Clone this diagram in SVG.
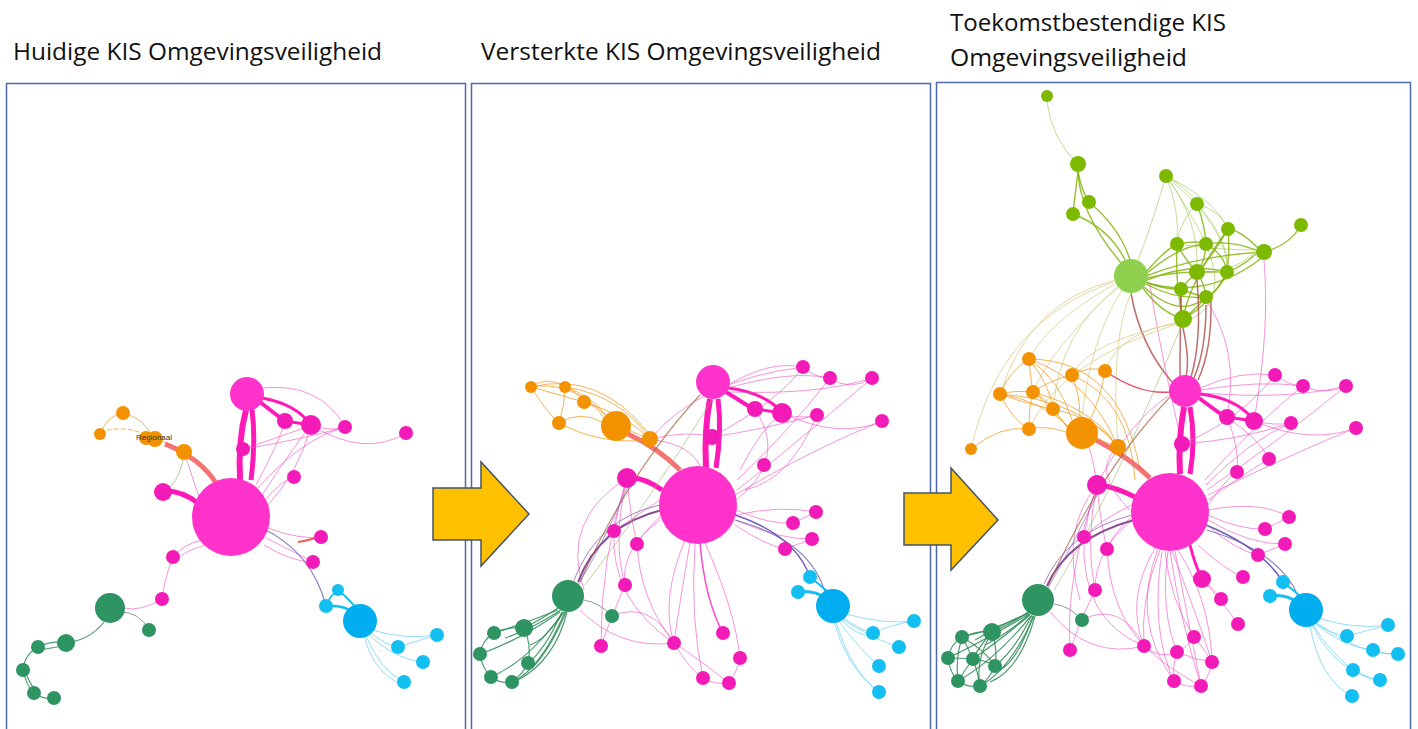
<svg xmlns="http://www.w3.org/2000/svg" width="1418" height="729" viewBox="0 0 1418 729">
<style>
.t{font-family:"Open Sans","Liberation Sans",sans-serif;font-size:23px;fill:#111}
.panel{fill:#fff;stroke:#4F69A8;stroke-width:1.5}
.arrow{fill:#FFC000;stroke:#44546A;stroke-width:1.5}
path{fill:none}
.ep{stroke:#F04CC0;stroke-width:1;opacity:.6}
.ept{stroke:#FF1AB8}
.eo{stroke:#F09A20;stroke-width:1;opacity:.75}
.er{stroke:#F25A5A}
.eb{stroke:#4CC6F2;stroke-width:1;opacity:.6}
.epu{stroke:#6F5FB5}
.edg{stroke:#2E8B57;stroke-width:1.2;opacity:.85}
.eg{stroke:#7DB200;stroke-width:1.4;opacity:.8}
.egl{stroke:#A9CF6A;stroke-width:1;opacity:.7}
.ey{stroke:#D9CF8C;stroke-width:1;opacity:.8}
.ebr{stroke:#B04848;stroke-width:1.5;opacity:.8}
.hub{fill:#FF33CC}
.pk{fill:#F21BB8}
.or{fill:#F39200}
.dg{fill:#2E9462}
.bl{fill:#12BFF0}
.bb{fill:#00ADEF}
.gr{fill:#7DB900}
.lg{fill:#8FD14F}
.lbl{font-family:"Liberation Sans",sans-serif;font-size:8px;fill:#333}
</style>

<g id="titles">
<text class="t" x="13" y="60" textLength="369" lengthAdjust="spacingAndGlyphs">Huidige KIS Omgevingsveiligheid</text>
<text class="t" x="481" y="60" textLength="400" lengthAdjust="spacingAndGlyphs">Versterkte KIS Omgevingsveiligheid</text>
<text class="t" x="950" y="31" textLength="276" lengthAdjust="spacingAndGlyphs">Toekomstbestendige KIS</text>
<text class="t" x="950" y="66" textLength="237" lengthAdjust="spacingAndGlyphs">Omgevingsveiligheid</text>
</g>

<g id="panels">
<rect class="panel" x="6.5" y="83.5" width="459" height="660"/>
<rect class="panel" x="471.5" y="83.5" width="459" height="660"/>
<rect class="panel" x="936.5" y="82.5" width="474" height="660"/>
</g>

<g id="connectors">
<!-- ===== Panel 1 ===== -->
<path class="ept" stroke-width="6" d="M240 480 Q238 440 246 410"/>
<path class="ept" stroke-width="5" d="M251 480 Q256 440 252 410"/>
<path class="ept" stroke-width="5" d="M198 503 Q182 491 166 491"/>
<path class="ept" stroke-width="4" d="M260 402 Q275 414 285 421"/>
<path class="ept" stroke-width="3" d="M262 398 Q296 404 311 425"/>
<path class="ept" stroke-width="3" d="M285 421 L311 425"/>
<path class="ep" d="M262 388 Q320 382 345 427"/>
<path class="ep" d="M311 425 Q365 458 406 433"/>
<path class="ep" d="M258 488 Q300 440 345 427"/>
<path class="ep" d="M262 495 Q290 452 311 425"/>
<path class="ep" d="M256 485 Q280 440 285 421"/>
<path class="ep" d="M265 500 Q282 480 294 477"/>
<path class="ep" d="M243 449 Q300 440 345 427"/>
<path class="ep" d="M243 449 Q300 430 311 425"/>
<path class="ep" d="M268 505 Q300 470 311 425"/>
<path class="ep" d="M311 425 Q330 432 345 427"/>
<path class="ep" d="M268 528 Q300 540 321 537"/>
<path class="er" stroke-width="2" d="M298 542 Q310 540 318 537"/>
<path class="ep" d="M264 545 Q292 562 313 562"/>
<path class="ep" d="M266 538 Q300 555 313 562"/>
<path class="ep" stroke-width="1.5" d="M202 540 Q182 545 173 557"/>
<path class="ep" d="M206 545 Q186 550 176 560"/>
<path class="ep" stroke-width="1.5" d="M173 557 Q164 580 162 599"/>
<path class="ep" d="M162 599 Q140 612 124 608"/>
<path stroke="#8A9AA8" stroke-width="1" d="M120 612 Q140 612 149 630"/>
<path class="edg" stroke-width="2" d="M104 622 Q90 640 66 643"/>
<path class="edg" d="M66 643 Q52 640 38 647"/>
<path class="edg" d="M64 646 Q50 648 40 650"/>
<path class="edg" d="M38 647 Q24 655 23 670"/>
<path class="edg" d="M23 670 Q26 685 34 693"/>
<path class="edg" d="M25 672 Q32 688 38 693"/>
<path class="edg" d="M34 693 Q44 700 54 698"/>
<path class="eo" stroke-width="1.5" d="M100 434 Q108 415 123 413"/>
<path class="eo" stroke-width="1.5" d="M123 413 Q145 418 153 439"/>
<path class="eo" stroke-width="1.5" stroke-dasharray="5 2" d="M100 432 Q128 424 150 437"/>
<path class="eo" stroke-width="3" d="M153 439 Q170 442 184 452"/>
<path class="er" stroke-width="5" opacity=".85" d="M165 444 Q200 458 216 483"/>
<path stroke="#B9C8A0" stroke-width="1" d="M184 452 Q182 475 170 487"/>
<path class="ep" d="M184 452 Q190 470 200 500"/>
<path class="epu" stroke-width="1.2" opacity=".8" d="M262 528 Q312 552 326 606"/>
<path stroke="#12BFF0" stroke-width="3" d="M326 606 Q345 605 352 612"/>
<path stroke="#12BFF0" stroke-width="2" d="M338 590 Q350 600 356 608"/>
<path stroke="#12BFF0" stroke-width="1.5" d="M326 606 Q330 595 338 590"/>
<path class="eb" d="M370 632 Q385 645 398 647"/>
<path class="eb" d="M368 634 Q395 660 423 662"/>
<path class="eb" d="M372 630 Q405 640 437 635"/>
<path class="eb" d="M366 636 Q380 670 404 682"/>
<path class="eb" d="M364 636 Q375 675 402 684"/>
<path class="eb" d="M398 647 Q420 640 437 635"/>

<!-- ===== Panel 2 ===== -->
<path class="ept" stroke-width="6" d="M706 468 Q704 430 710 399"/>
<path class="ept" stroke-width="5" d="M716 468 Q722 430 718 399"/>
<path class="ept" stroke-width="5" d="M662 490 Q645 478 632 478"/>
<path class="ept" stroke-width="4" d="M726 392 Q742 402 753 409"/>
<path class="ept" stroke-width="3" d="M728 388 Q762 392 780 410"/>
<path class="ept" stroke-width="3" d="M755 409 L782 413"/>
<path class="er" stroke-width="5" opacity=".85" d="M628 434 Q658 448 680 470"/>
<path class="eo" stroke-width="3" d="M628 430 L645 437"/>
<path class="eo" d="M531 387 Q570 380 605 415"/>
<path class="eo" d="M565 387 Q590 395 606 415"/>
<path class="eo" stroke-width="1.5" d="M584 402 Q596 405 604 418"/>
<path class="eo" stroke-width="1.5" d="M559 423 Q580 410 602 422"/>
<path class="eo" d="M531 387 Q548 375 565 387"/>
<path class="eo" d="M531 387 Q560 395 584 402"/>
<path class="eo" d="M565 387 Q575 390 584 402"/>
<path class="eo" d="M531 387 Q545 410 559 423"/>
<path class="eo" d="M565 387 Q565 405 559 423"/>
<path class="eo" opacity=".45" d="M531 387 Q600 370 650 435"/>
<path class="eo" opacity=".5" d="M565 387 Q620 395 650 439"/>
<path class="eo" opacity=".5" d="M584 402 Q625 415 648 437"/>
<path class="eo" opacity=".4" d="M559 423 Q600 445 648 440"/>
<path class="ep" d="M728 385 Q770 360 803 367"/>
<path class="ep" d="M728 388 Q790 370 830 378"/>
<path class="ep" d="M730 392 Q820 395 872 378"/>
<path class="ep" d="M782 413 Q800 420 817 415"/>
<path class="ep" d="M782 413 Q840 440 882 421"/>
<path class="ep" d="M737 480 Q790 430 830 378"/>
<path class="ep" d="M737 490 Q800 440 872 378"/>
<path class="ep" d="M735 495 Q810 450 882 421"/>
<path class="ep" d="M736 500 Q760 480 764 465"/>
<path class="ep" d="M712 437 Q760 430 817 415"/>
<path class="ep" d="M712 437 Q780 400 803 367"/>
<path class="ep" d="M740 470 Q760 430 782 413"/>
<path class="ep" d="M745 490 Q790 480 817 415"/>
<path class="ep" d="M755 409 Q775 440 764 465"/>
<path class="ep" d="M803 367 Q815 378 830 378"/>
<path class="ep" d="M830 378 Q850 392 872 378"/>
<path class="ep" d="M650 439 Q700 380 803 367"/>
<path class="ep" d="M650 439 Q690 430 712 437"/>
<path class="ep" stroke-width="1.5" d="M655 440 Q690 445 700 466"/>
<path class="ep" d="M736 510 Q770 525 793 523"/>
<path class="ep" d="M736 515 Q780 505 816 512"/>
<path class="ep" d="M736 520 Q780 540 812 539"/>
<path class="ep" d="M735 525 Q765 545 785 549"/>
<path class="ep" stroke-width="1.5" d="M793 523 L816 512"/>
<path class="ep" stroke-width="1.5" d="M785 549 L812 539"/>
<path class="epu" stroke-width="1.5" d="M735 515 Q795 535 810 577"/>
<path class="epu" stroke-width="1.2" opacity=".8" d="M735 520 Q810 540 825 592"/>
<path stroke="#12BFF0" stroke-width="3" d="M798 592 Q815 590 825 598"/>
<path stroke="#12BFF0" stroke-width="2" d="M810 577 Q820 585 828 592"/>
<path class="eb" d="M842 617 Q860 630 873 633"/>
<path class="eb" d="M840 619 Q855 635 871 636"/>
<path class="eb" d="M840 618 Q875 640 899 647"/>
<path class="eb" d="M842 613 Q885 625 914 621"/>
<path class="eb" d="M838 620 Q860 650 879 666"/>
<path class="eb" d="M836 621 Q850 670 879 692"/>
<path class="eb" d="M834 621 Q845 665 876 690"/>
<path class="eb" d="M873 633 Q890 625 914 621"/>
<path class="ep" d="M690 543 Q680 600 674 643"/>
<path class="ept" stroke-width="1.5" opacity=".8" d="M700 543 Q705 600 723 633"/>
<path class="ep" d="M695 543 Q690 620 703 678"/>
<path class="ep" d="M705 543 Q735 610 740 658"/>
<path class="ep" d="M685 540 Q660 600 674 643"/>
<path class="ep" d="M674 643 Q690 670 703 678"/>
<path class="ep" stroke-width="1.5" d="M703 678 Q715 685 729 683"/>
<path class="ep" stroke-width="1.5" d="M729 683 Q738 670 740 658"/>
<path class="ep" d="M674 643 Q700 660 729 683"/>
<path class="ep" d="M627 478 Q618 505 614 531"/>
<path class="ep" d="M627 478 Q630 515 637 544"/>
<path class="ep" d="M627 478 Q600 560 601 646"/>
<path class="ep" d="M627 478 Q612 540 625 585"/>
<path class="ep" d="M660 500 Q630 520 614 531"/>
<path class="ep" d="M662 515 Q645 530 637 544"/>
<path class="ep" stroke-width="1.3" d="M625 585 Q610 620 601 646"/>
<path class="ep" d="M614 531 Q610 600 674 643"/>
<path class="ep" d="M660 520 Q620 550 625 585"/>
<path class="ep" d="M637 544 Q640 600 674 643"/>
<path class="ep" d="M627 478 Q560 520 584 590"/>
<path class="ep" d="M612 616 Q650 600 674 643"/>
<path class="ep" d="M580 610 Q620 650 674 643"/>
<path stroke="#8B4B9B" stroke-width="2" d="M662 510 Q600 525 578 582"/>
<path stroke="#8B4B9B" stroke-width="1" opacity=".7" d="M660 505 Q598 518 574 580"/>
<path stroke="#A8603A" stroke-width="1.2" opacity=".7" d="M700 395 Q630 470 580 582"/>
<path stroke="#9DB36A" stroke-width="1" opacity=".6" d="M712 400 Q650 500 585 585"/>
<path class="epu" stroke-width="1" opacity=".6" d="M627 488 Q600 550 578 585"/>
<path stroke="#8A9AA8" stroke-width="1" d="M584 600 Q600 603 612 616"/>
<path class="edg" stroke-width="2" d="M558 608 Q540 620 524 628"/>
<path class="edg" d="M558 610 Q520 625 494 633"/>
<path class="edg" d="M560 612 Q520 640 480 654"/>
<path class="edg" d="M562 612 Q545 650 528 663"/>
<path class="edg" d="M563 612 Q530 660 491 677"/>
<path class="edg" d="M565 612 Q540 670 512 682"/>
<path class="edg" d="M564 612 Q545 640 530 645"/>
<path class="edg" d="M566 612 Q550 650 532 668"/>
<path class="edg" d="M561 610 Q530 630 505 638"/>
<path class="edg" d="M567 612 Q555 660 518 680"/>
<path class="edg" d="M494 633 Q510 626 524 628"/>
<path class="edg" d="M480 654 Q482 640 494 633"/>
<path class="edg" d="M480 654 Q482 668 491 677"/>
<path class="edg" d="M491 677 Q500 684 512 682"/>
<path class="edg" d="M512 682 Q522 675 528 663"/>
<path class="edg" d="M524 628 Q532 645 528 663"/>

<!-- ===== Panel 3 ===== -->
<path class="egl" d="M1047 102 Q1052 140 1078 164"/>
<path class="eg" d="M1078 172 Q1075 195 1073 214"/>
<path class="eg" d="M1078 172 Q1082 192 1089 202"/>
<path class="eg" d="M1073 214 Q1110 228 1126 262"/>
<path class="eg" d="M1089 202 Q1120 228 1130 260"/>
<path class="eg" d="M1078 172 Q1080 215 1122 264"/>
<path class="egl" d="M1166 176 Q1150 230 1138 260"/>
<path class="egl" d="M1166 176 Q1190 190 1197 204"/>
<path class="egl" d="M1166 176 Q1190 210 1206 244"/>
<path class="egl" d="M1166 176 Q1180 210 1177 244"/>
<path class="egl" d="M1166 176 Q1200 220 1197 272"/>
<path class="egl" d="M1166 176 Q1215 200 1228 229"/>
<path class="egl" d="M1166 176 Q1230 230 1227 272"/>
<path class="egl" d="M1197 204 Q1180 220 1177 244"/>
<path class="eg" d="M1197 204 Q1205 225 1206 244"/>
<path class="egl" d="M1197 204 Q1220 210 1228 229"/>
<path class="egl" d="M1197 204 Q1230 240 1227 272"/>
<path class="eg" d="M1146 272 Q1165 250 1177 244"/>
<path class="eg" d="M1146 274 Q1180 245 1206 244"/>
<path class="eg" stroke-width="2" d="M1147 278 Q1175 272 1197 272"/>
<path class="eg" d="M1147 280 Q1190 262 1227 272"/>
<path class="eg" d="M1146 282 Q1165 290 1181 289"/>
<path class="eg" stroke-width="2" d="M1146 284 Q1175 300 1206 297"/>
<path class="eg" stroke-width="2" d="M1143 288 Q1160 312 1183 319"/>
<path class="eg" d="M1146 276 Q1200 255 1264 252"/>
<path class="eg" d="M1147 283 Q1210 300 1264 256"/>
<path class="eg" d="M1144 287 Q1180 320 1206 297"/>
<path class="eg" d="M1264 252 Q1290 245 1301 225"/>
<path class="eg" d="M1256 250 Q1230 240 1206 244"/>
<path class="eg" d="M1256 254 Q1240 268 1227 272"/>
<path class="eg" d="M1258 248 Q1240 230 1228 229"/>
<path class="egl" d="M1256 250 Q1220 250 1177 244"/>
<path class="egl" d="M1256 252 Q1230 275 1197 272"/>
<path class="eg" d="M1177 244 Q1200 240 1206 244"/>
<path class="eg" d="M1177 244 Q1185 260 1197 272"/>
<path class="eg" d="M1206 244 Q1205 262 1197 272"/>
<path class="eg" d="M1206 244 Q1225 255 1227 272"/>
<path class="eg" d="M1228 229 Q1230 250 1227 272"/>
<path class="eg" d="M1228 229 Q1210 260 1197 272"/>
<path class="eg" d="M1197 272 Q1212 272 1227 272"/>
<path class="eg" d="M1197 272 Q1188 280 1181 289"/>
<path class="eg" d="M1197 272 Q1205 285 1206 297"/>
<path class="eg" d="M1181 289 Q1195 295 1206 297"/>
<path class="eg" d="M1181 289 Q1180 305 1183 319"/>
<path class="eg" d="M1206 297 Q1195 310 1183 319"/>
<path class="eg" d="M1227 272 Q1220 290 1206 297"/>
<path class="eg" d="M1227 272 Q1210 305 1183 319"/>
<path class="eg" d="M1228 229 Q1190 280 1183 319"/>
<path class="eg" d="M1177 244 Q1175 285 1183 319"/>
<path class="egl" d="M1206 244 Q1230 300 1190 320"/>
<path class="ebr" d="M1183 328 Q1190 360 1186 376"/>
<path class="ebr" d="M1197 280 Q1202 340 1191 377"/>
<path class="ebr" d="M1206 305 Q1206 350 1194 378"/>
<path class="ebr" stroke-width="1" d="M1211 300 Q1212 350 1198 380"/>
<path class="ebr" stroke-width="1.2" d="M1131 293 Q1140 345 1172 382"/>
<path class="ebr" stroke-width="1" opacity=".5" d="M1181 296 Q1180 345 1180 376"/>
<path class="ep" opacity=".35" d="M1264 260 Q1270 330 1254 421"/>
<path class="ep" opacity=".35" d="M1206 300 Q1240 350 1227 417"/>
<path class="ep" opacity=".3" d="M1150 285 Q1160 350 1182 444"/>
<path class="ey" d="M1116 280 Q1030 300 1000 394"/>
<path class="ey" d="M1115 284 Q1050 320 1029 359"/>
<path class="ey" d="M1118 288 Q1060 330 1053 409"/>
<path class="ey" d="M1122 290 Q1090 340 1082 418"/>
<path class="ey" d="M1114 282 Q1000 320 971 449"/>
<path class="ey" d="M1118 286 Q1050 350 1033 392"/>
<path class="ey" d="M1183 322 Q1120 330 1105 371"/>
<path class="ey" d="M1183 322 Q1090 340 1072 375"/>
<path class="ey" d="M1131 293 Q1110 340 1118 447"/>
<path class="ey" opacity=".5" d="M1183 322 Q1060 360 1029 429"/>
<path class="eo" d="M1029 359 Q1060 380 1072 420"/>
<path class="eo" d="M1072 375 Q1080 395 1080 417"/>
<path class="eo" d="M1105 371 Q1100 400 1090 420"/>
<path class="eo" stroke-width="1.5" d="M1000 394 Q1040 400 1068 426"/>
<path class="eo" stroke-width="1.5" d="M1033 392 Q1055 410 1068 428"/>
<path class="eo" stroke-width="1.5" d="M1053 409 Q1062 420 1068 428"/>
<path class="eo" stroke-width="1.5" d="M1029 429 Q1045 425 1066 432"/>
<path class="eo" d="M1029 359 Q1010 370 1000 394"/>
<path class="eo" d="M1029 359 Q1030 375 1033 392"/>
<path class="eo" d="M1029 359 Q1050 385 1053 409"/>
<path class="eo" d="M1000 394 Q1015 390 1033 392"/>
<path class="eo" d="M1000 394 Q1030 405 1053 409"/>
<path class="eo" d="M1000 394 Q1012 420 1029 429"/>
<path class="eo" d="M1033 392 Q1045 398 1053 409"/>
<path class="eo" d="M1033 392 Q1028 410 1029 429"/>
<path class="eo" d="M1072 375 Q1090 365 1105 371"/>
<path class="eo" d="M1072 375 Q1050 380 1033 392"/>
<path class="eo" d="M1029 359 Q1090 380 1118 447"/>
<path class="eo" d="M1000 394 Q1080 400 1118 447"/>
<path class="eo" d="M1033 392 Q1095 410 1116 445"/>
<path class="eo" d="M1053 409 Q1100 420 1115 444"/>
<path class="eo" opacity=".5" d="M971 449 Q1000 425 1029 429"/>
<path class="eo" opacity=".4" d="M1029 359 Q1120 360 1140 470"/>
<path class="eo" opacity=".4" d="M1072 375 Q1130 400 1135 480"/>
<path stroke="#E8506A" stroke-width="1.5" d="M1105 371 Q1140 395 1170 392"/>
<path class="er" stroke-width="5" opacity=".85" d="M1096 440 Q1130 458 1150 478"/>
<path class="eo" stroke-width="3" d="M1096 438 L1112 445"/>
<path class="ept" stroke-width="6" d="M1180 474 Q1178 440 1184 407"/>
<path class="ept" stroke-width="5" d="M1190 474 Q1196 440 1190 407"/>
<path class="ept" stroke-width="5" d="M1135 497 Q1115 487 1100 485"/>
<path class="ept" stroke-width="4" d="M1199 398 Q1215 410 1225 417"/>
<path class="ept" stroke-width="3" d="M1200 394 Q1235 398 1252 418"/>
<path class="ept" stroke-width="3" d="M1227 417 L1254 421"/>
<path class="ep" d="M1200 388 Q1240 370 1275 375"/>
<path class="ep" d="M1200 390 Q1260 380 1303 386"/>
<path class="ep" d="M1202 393 Q1290 400 1346 386"/>
<path class="ep" d="M1275 375 Q1290 386 1303 386"/>
<path class="ep" d="M1303 386 Q1325 396 1346 386"/>
<path class="ep" d="M1254 421 Q1275 426 1291 423"/>
<path class="ep" d="M1254 421 Q1310 445 1356 428"/>
<path class="ep" d="M1205 480 Q1260 420 1303 386"/>
<path class="ep" d="M1207 490 Q1280 440 1346 386"/>
<path class="ep" d="M1208 495 Q1300 450 1356 428"/>
<path class="ep" d="M1206 485 Q1250 440 1291 423"/>
<path class="ep" d="M1182 444 Q1240 420 1275 375"/>
<path class="ep" d="M1182 444 Q1240 440 1291 423"/>
<path class="ep" d="M1208 500 Q1250 470 1269 459"/>
<path class="ep" d="M1208 505 Q1225 480 1237 472"/>
<path class="ep" d="M1227 417 Q1260 440 1269 459"/>
<path class="ep" d="M1227 417 Q1240 450 1237 472"/>
<path class="ep" d="M1208 510 Q1260 500 1289 517"/>
<path class="ep" d="M1208 515 Q1240 530 1265 529"/>
<path class="ep" d="M1208 520 Q1250 545 1285 544"/>
<path class="ep" d="M1207 525 Q1235 550 1258 555"/>
<path class="ep" stroke-width="1.5" d="M1265 529 L1289 517"/>
<path class="ep" stroke-width="1.5" d="M1258 555 L1285 544"/>
<path class="ept" stroke-width="3" d="M1190 545 Q1195 565 1202 579"/>
<path class="ep" stroke-width="1.5" d="M1202 579 Q1215 590 1221 599"/>
<path class="ep" d="M1202 579 Q1225 605 1238 624"/>
<path class="ep" d="M1198 545 Q1225 570 1243 577"/>
<path class="ep" d="M1160 550 Q1140 600 1144 646"/>
<path class="ep" d="M1165 551 Q1170 600 1194 637"/>
<path class="ep" d="M1168 551 Q1160 610 1177 652"/>
<path class="ep" d="M1172 551 Q1195 610 1212 662"/>
<path class="ep" d="M1162 551 Q1150 630 1174 681"/>
<path class="ep" d="M1175 551 Q1190 630 1201 686"/>
<path class="ep" d="M1158 549 Q1130 620 1174 681"/>
<path class="ep" d="M1178 550 Q1210 600 1212 662"/>
<path class="ep" d="M1155 548 Q1125 600 1144 646"/>
<path class="ep" d="M1170 551 Q1180 620 1201 686"/>
<path class="ep" d="M1144 646 Q1160 660 1177 652"/>
<path class="ep" d="M1144 646 Q1170 670 1201 686"/>
<path class="ep" d="M1177 652 Q1190 645 1194 637"/>
<path class="ep" d="M1177 652 Q1195 660 1212 662"/>
<path class="ep" d="M1174 681 Q1185 688 1201 686"/>
<path class="ep" d="M1201 686 Q1210 675 1212 662"/>
<path class="ep" d="M1194 637 Q1205 650 1212 662"/>
<path class="ep" d="M1177 652 Q1172 668 1174 681"/>
<path class="ep" d="M1097 485 Q1088 510 1084 537"/>
<path class="ep" d="M1097 485 Q1100 520 1107 549"/>
<path class="ep" d="M1097 485 Q1085 540 1095 590"/>
<path class="ep" d="M1097 485 Q1065 580 1070 650"/>
<path class="ep" d="M1132 505 Q1100 520 1084 537"/>
<path class="ep" d="M1134 515 Q1115 530 1107 549"/>
<path class="ep" stroke-width="1.3" d="M1095 590 Q1080 620 1070 650"/>
<path class="ep" d="M1132 520 Q1095 550 1095 590"/>
<path class="ep" d="M1084 537 Q1080 620 1144 646"/>
<path class="ep" d="M1107 549 Q1110 610 1144 646"/>
<path class="ep" d="M1097 485 Q1060 530 1080 600"/>
<path class="ep" d="M1082 620 Q1120 600 1144 646"/>
<path class="ep" d="M1050 612 Q1090 660 1144 646"/>
<path class="ep" d="M1097 485 Q1090 440 1082 433"/>
<path class="ep" d="M1097 485 Q1130 420 1170 395"/>
<path class="ep" d="M1130 510 Q1090 470 1118 447"/>
<path stroke="#8B4B9B" stroke-width="2" d="M1134 520 Q1068 538 1047 586"/>
<path stroke="#8B4B9B" stroke-width="1" opacity=".7" d="M1132 515 Q1066 532 1044 584"/>
<path stroke="#A8603A" stroke-width="1.2" opacity=".7" d="M1172 395 Q1100 470 1048 586"/>
<path stroke="#9DB36A" stroke-width="1" opacity=".6" d="M1183 322 Q1110 500 1054 590"/>
<path class="epu" stroke-width="1" opacity=".6" d="M1097 495 Q1070 550 1048 588"/>
<path class="epu" stroke-width="1.5" d="M1206 525 Q1262 548 1283 582"/>
<path class="epu" stroke-width="1.2" opacity=".8" d="M1207 530 Q1280 552 1298 596"/>
<path stroke="#12BFF0" stroke-width="3" d="M1270 596 Q1287 594 1296 602"/>
<path stroke="#12BFF0" stroke-width="2" d="M1283 582 Q1293 590 1300 596"/>
<path class="eb" d="M1314 622 Q1330 634 1347 636"/>
<path class="eb" d="M1314 623 Q1345 648 1373 650"/>
<path class="eb" d="M1316 622 Q1360 655 1398 654"/>
<path class="eb" d="M1318 618 Q1355 630 1388 625"/>
<path class="eb" d="M1312 625 Q1330 660 1353 670"/>
<path class="eb" d="M1313 625 Q1345 675 1380 680"/>
<path class="eb" d="M1310 626 Q1320 680 1352 696"/>
<path class="eb" d="M1347 636 Q1370 630 1388 625"/>
<path class="eb" d="M1373 650 Q1385 655 1398 654"/>
<path class="eb" d="M1353 670 Q1368 680 1380 680"/>
<path stroke="#8A9AA8" stroke-width="1" d="M1054 604 Q1070 606 1082 620"/>
<path class="edg" stroke-width="2" d="M1028 612 Q1010 625 992 632"/>
<path class="edg" d="M1028 613 Q995 630 962 637"/>
<path class="edg" d="M1029 614 Q985 640 948 658"/>
<path class="edg" d="M1030 615 Q1000 640 973 659"/>
<path class="edg" d="M1032 615 Q1015 650 995 666"/>
<path class="edg" d="M1031 616 Q995 660 958 681"/>
<path class="edg" d="M1034 616 Q1010 670 980 686"/>
<path class="edg" d="M1030 614 Q1005 635 985 645"/>
<path class="edg" d="M1033 616 Q1018 660 1000 670"/>
<path class="edg" d="M1029 613 Q1000 625 975 640"/>
<path class="edg" d="M1035 616 Q1020 670 990 682"/>
<path class="edg" d="M962 637 Q980 630 992 632"/>
<path class="edg" d="M948 658 Q950 645 962 637"/>
<path class="edg" d="M948 658 Q950 673 958 681"/>
<path class="edg" d="M958 681 Q968 688 980 686"/>
<path class="edg" d="M980 686 Q990 678 995 666"/>
<path class="edg" d="M992 632 Q998 650 995 666"/>
<path class="edg" d="M962 637 Q968 648 973 659"/>
<path class="edg" d="M973 659 Q985 660 995 666"/>
<path class="edg" d="M948 658 Q960 658 973 659"/>
<path class="edg" d="M973 659 Q965 670 958 681"/>
<path class="edg" d="M973 659 Q978 672 980 686"/>
<path class="edg" d="M992 632 Q980 645 973 659"/>
<path class="edg" d="M962 637 Q955 660 958 681"/>
<path class="edg" d="M992 632 Q975 660 980 686"/>
<path class="edg" d="M962 637 Q985 650 995 666"/>
</g>

<g id="nodes">
<g id="p1-hub"><circle class="hub" cx="231" cy="517" r="39"/></g>
<g id="p1-top"><circle class="hub" cx="247" cy="394" r="17"/></g>
<g id="p1-n1"><circle class="pk" cx="285" cy="421" r="8"/></g>
<g id="p1-n2"><circle class="pk" cx="311" cy="425" r="10"/></g>
<g id="p1-n3"><circle class="pk" cx="345" cy="427" r="7"/></g>
<g id="p1-n4"><circle class="pk" cx="406" cy="433" r="7"/></g>
<g id="p1-n5"><circle class="pk" cx="243" cy="449" r="7"/></g>
<g id="p1-n6"><circle class="pk" cx="294" cy="477" r="7"/></g>
<g id="p1-n7"><circle class="pk" cx="163" cy="492" r="9"/></g>
<g id="p1-n8"><circle class="pk" cx="321" cy="537" r="7"/></g>
<g id="p1-n9"><circle class="pk" cx="313" cy="562" r="7"/></g>
<g id="p1-n10"><circle class="pk" cx="173" cy="557" r="7"/></g>
<g id="p1-n11"><circle class="pk" cx="162" cy="599" r="7"/></g>
<g id="p1-o1"><circle class="or" cx="123" cy="413" r="7"/></g>
<g id="p1-o2"><circle class="or" cx="100" cy="434" r="6"/></g>
<g id="p1-o3"><circle class="or" cx="146" cy="438" r="7"/><circle class="or" cx="155" cy="439" r="8"/><text class="lbl" x="136" y="440">Regionaal</text></g>
<g id="p1-o4"><circle class="or" cx="184" cy="452" r="8"/></g>
<g id="p1-g1"><circle class="dg" cx="110" cy="608" r="15"/></g>
<g id="p1-g2"><circle class="dg" cx="149" cy="630" r="7"/></g>
<g id="p1-g3"><circle class="dg" cx="66" cy="643" r="9"/></g>
<g id="p1-g4"><circle class="dg" cx="38" cy="647" r="7"/></g>
<g id="p1-g5"><circle class="dg" cx="23" cy="670" r="7"/></g>
<g id="p1-g6"><circle class="dg" cx="34" cy="693" r="7"/></g>
<g id="p1-g7"><circle class="dg" cx="54" cy="698" r="7"/></g>
<g id="p1-b1"><circle class="bb" cx="360" cy="621" r="17"/></g>
<g id="p1-b2"><circle class="bl" cx="326" cy="606" r="7"/></g>
<g id="p1-b3"><circle class="bl" cx="338" cy="590" r="6"/></g>
<g id="p1-b4"><circle class="bl" cx="398" cy="647" r="7"/></g>
<g id="p1-b5"><circle class="bl" cx="423" cy="662" r="7"/></g>
<g id="p1-b6"><circle class="bl" cx="437" cy="635" r="7"/></g>
<g id="p1-b7"><circle class="bl" cx="404" cy="682" r="7"/></g>

<g id="p2-hub"><circle class="hub" cx="698" cy="505" r="39"/></g>
<g id="p2-top"><circle class="hub" cx="713" cy="382" r="17"/></g>
<g id="p2-n1"><circle class="pk" cx="755" cy="409" r="8"/></g>
<g id="p2-n2"><circle class="pk" cx="782" cy="413" r="10"/></g>
<g id="p2-n3"><circle class="pk" cx="817" cy="415" r="7"/></g>
<g id="p2-n4"><circle class="pk" cx="803" cy="367" r="7"/></g>
<g id="p2-n5"><circle class="pk" cx="830" cy="378" r="7"/></g>
<g id="p2-n6"><circle class="pk" cx="872" cy="378" r="7"/></g>
<g id="p2-n7"><circle class="pk" cx="882" cy="421" r="7"/></g>
<g id="p2-n8"><circle class="pk" cx="712" cy="437" r="8"/></g>
<g id="p2-n9"><circle class="pk" cx="764" cy="465" r="7"/></g>
<g id="p2-n10"><circle class="pk" cx="627" cy="478" r="10"/></g>
<g id="p2-n11"><circle class="pk" cx="614" cy="531" r="7"/></g>
<g id="p2-n12"><circle class="pk" cx="637" cy="544" r="7"/></g>
<g id="p2-n13"><circle class="pk" cx="625" cy="585" r="7"/></g>
<g id="p2-n14"><circle class="pk" cx="601" cy="646" r="7"/></g>
<g id="p2-n15"><circle class="pk" cx="674" cy="643" r="7"/></g>
<g id="p2-n16"><circle class="pk" cx="723" cy="633" r="7"/></g>
<g id="p2-n17"><circle class="pk" cx="740" cy="658" r="7"/></g>
<g id="p2-n18"><circle class="pk" cx="703" cy="678" r="7"/></g>
<g id="p2-n19"><circle class="pk" cx="729" cy="683" r="7"/></g>
<g id="p2-n20"><circle class="pk" cx="816" cy="512" r="7"/></g>
<g id="p2-n21"><circle class="pk" cx="793" cy="523" r="7"/></g>
<g id="p2-n22"><circle class="pk" cx="812" cy="539" r="7"/></g>
<g id="p2-n23"><circle class="pk" cx="785" cy="549" r="7"/></g>
<g id="p2-o1"><circle class="or" cx="616" cy="426" r="15"/></g>
<g id="p2-o2"><circle class="or" cx="650" cy="439" r="8"/></g>
<g id="p2-o3"><circle class="or" cx="531" cy="387" r="6"/></g>
<g id="p2-o4"><circle class="or" cx="565" cy="387" r="6"/></g>
<g id="p2-o5"><circle class="or" cx="584" cy="402" r="7"/></g>
<g id="p2-o6"><circle class="or" cx="559" cy="423" r="7"/></g>
<g id="p2-g1"><circle class="dg" cx="568" cy="596" r="16"/></g>
<g id="p2-g2"><circle class="dg" cx="612" cy="616" r="7"/></g>
<g id="p2-g3"><circle class="dg" cx="524" cy="628" r="9"/></g>
<g id="p2-g4"><circle class="dg" cx="494" cy="633" r="7"/></g>
<g id="p2-g5"><circle class="dg" cx="480" cy="654" r="7"/></g>
<g id="p2-g6"><circle class="dg" cx="528" cy="663" r="7"/></g>
<g id="p2-g7"><circle class="dg" cx="491" cy="677" r="7"/></g>
<g id="p2-g8"><circle class="dg" cx="512" cy="682" r="7"/></g>
<g id="p2-b1"><circle class="bb" cx="833" cy="606" r="17"/></g>
<g id="p2-b2"><circle class="bl" cx="798" cy="592" r="7"/></g>
<g id="p2-b3"><circle class="bl" cx="810" cy="577" r="7"/></g>
<g id="p2-b4"><circle class="bl" cx="873" cy="633" r="7"/></g>
<g id="p2-b5"><circle class="bl" cx="899" cy="647" r="7"/></g>
<g id="p2-b6"><circle class="bl" cx="914" cy="621" r="7"/></g>
<g id="p2-b7"><circle class="bl" cx="879" cy="666" r="7"/></g>
<g id="p2-b8"><circle class="bl" cx="879" cy="692" r="7"/></g>

<g id="p3-hub"><circle class="hub" cx="1170" cy="512" r="39"/></g>
<g id="p3-top"><circle class="hub" cx="1185" cy="391" r="16"/></g>
<g id="p3-n1"><circle class="pk" cx="1227" cy="417" r="8"/></g>
<g id="p3-n2"><circle class="pk" cx="1254" cy="421" r="9"/></g>
<g id="p3-n3"><circle class="pk" cx="1291" cy="423" r="7"/></g>
<g id="p3-n4"><circle class="pk" cx="1275" cy="375" r="7"/></g>
<g id="p3-n5"><circle class="pk" cx="1303" cy="386" r="7"/></g>
<g id="p3-n6"><circle class="pk" cx="1346" cy="386" r="7"/></g>
<g id="p3-n7"><circle class="pk" cx="1356" cy="428" r="7"/></g>
<g id="p3-n8"><circle class="pk" cx="1182" cy="444" r="8"/></g>
<g id="p3-n9"><circle class="pk" cx="1269" cy="459" r="7"/></g>
<g id="p3-n10"><circle class="pk" cx="1237" cy="472" r="7"/></g>
<g id="p3-n11"><circle class="pk" cx="1097" cy="485" r="10"/></g>
<g id="p3-n12"><circle class="pk" cx="1084" cy="537" r="7"/></g>
<g id="p3-n13"><circle class="pk" cx="1107" cy="549" r="7"/></g>
<g id="p3-n14"><circle class="pk" cx="1095" cy="590" r="7"/></g>
<g id="p3-n15"><circle class="pk" cx="1070" cy="650" r="7"/></g>
<g id="p3-n16"><circle class="pk" cx="1289" cy="517" r="7"/></g>
<g id="p3-n17"><circle class="pk" cx="1265" cy="529" r="7"/></g>
<g id="p3-n18"><circle class="pk" cx="1285" cy="544" r="7"/></g>
<g id="p3-n19"><circle class="pk" cx="1258" cy="555" r="7"/></g>
<g id="p3-n20"><circle class="pk" cx="1202" cy="579" r="9"/></g>
<g id="p3-n21"><circle class="pk" cx="1243" cy="577" r="7"/></g>
<g id="p3-n22"><circle class="pk" cx="1221" cy="599" r="7"/></g>
<g id="p3-n23"><circle class="pk" cx="1238" cy="624" r="7"/></g>
<g id="p3-n24"><circle class="pk" cx="1144" cy="646" r="7"/></g>
<g id="p3-n25"><circle class="pk" cx="1194" cy="637" r="7"/></g>
<g id="p3-n26"><circle class="pk" cx="1177" cy="652" r="7"/></g>
<g id="p3-n27"><circle class="pk" cx="1212" cy="662" r="7"/></g>
<g id="p3-n28"><circle class="pk" cx="1174" cy="681" r="7"/></g>
<g id="p3-n29"><circle class="pk" cx="1201" cy="686" r="7"/></g>
<g id="p3-o1"><circle class="or" cx="1082" cy="433" r="16"/></g>
<g id="p3-o2"><circle class="or" cx="1118" cy="447" r="8"/></g>
<g id="p3-o3"><circle class="or" cx="1029" cy="359" r="7"/></g>
<g id="p3-o4"><circle class="or" cx="1072" cy="375" r="7"/></g>
<g id="p3-o5"><circle class="or" cx="1105" cy="371" r="7"/></g>
<g id="p3-o6"><circle class="or" cx="1000" cy="394" r="7"/></g>
<g id="p3-o7"><circle class="or" cx="1033" cy="392" r="7"/></g>
<g id="p3-o8"><circle class="or" cx="1053" cy="409" r="7"/></g>
<g id="p3-o9"><circle class="or" cx="1029" cy="429" r="7"/></g>
<g id="p3-o10"><circle class="or" cx="971" cy="449" r="6"/></g>
<g id="p3-lg1"><circle class="lg" cx="1131" cy="276" r="17"/></g>
<g id="p3-gr1"><circle class="gr" cx="1047" cy="96" r="6"/></g>
<g id="p3-gr2"><circle class="gr" cx="1078" cy="164" r="8"/></g>
<g id="p3-gr3"><circle class="gr" cx="1089" cy="202" r="7"/></g>
<g id="p3-gr4"><circle class="gr" cx="1073" cy="214" r="7"/></g>
<g id="p3-gr5"><circle class="gr" cx="1166" cy="176" r="7"/></g>
<g id="p3-gr6"><circle class="gr" cx="1197" cy="204" r="7"/></g>
<g id="p3-gr7"><circle class="gr" cx="1228" cy="229" r="7"/></g>
<g id="p3-gr8"><circle class="gr" cx="1301" cy="225" r="7"/></g>
<g id="p3-gr9"><circle class="gr" cx="1264" cy="252" r="8"/></g>
<g id="p3-gr10"><circle class="gr" cx="1177" cy="244" r="7"/></g>
<g id="p3-gr11"><circle class="gr" cx="1206" cy="244" r="7"/></g>
<g id="p3-gr12"><circle class="gr" cx="1197" cy="272" r="8"/></g>
<g id="p3-gr13"><circle class="gr" cx="1227" cy="272" r="7"/></g>
<g id="p3-gr14"><circle class="gr" cx="1181" cy="289" r="7"/></g>
<g id="p3-gr15"><circle class="gr" cx="1206" cy="297" r="7"/></g>
<g id="p3-gr16"><circle class="gr" cx="1183" cy="319" r="9"/></g>
<g id="p3-g1"><circle class="dg" cx="1038" cy="600" r="16"/></g>
<g id="p3-g2"><circle class="dg" cx="1082" cy="620" r="7"/></g>
<g id="p3-g3"><circle class="dg" cx="992" cy="632" r="9"/></g>
<g id="p3-g4"><circle class="dg" cx="962" cy="637" r="7"/></g>
<g id="p3-g5"><circle class="dg" cx="948" cy="658" r="7"/></g>
<g id="p3-g6"><circle class="dg" cx="973" cy="659" r="7"/></g>
<g id="p3-g7"><circle class="dg" cx="995" cy="666" r="7"/></g>
<g id="p3-g8"><circle class="dg" cx="958" cy="681" r="7"/></g>
<g id="p3-g9"><circle class="dg" cx="980" cy="686" r="7"/></g>
<g id="p3-b1"><circle class="bb" cx="1306" cy="610" r="17"/></g>
<g id="p3-b2"><circle class="bl" cx="1270" cy="596" r="7"/></g>
<g id="p3-b3"><circle class="bl" cx="1283" cy="582" r="7"/></g>
<g id="p3-b4"><circle class="bl" cx="1347" cy="636" r="7"/></g>
<g id="p3-b5"><circle class="bl" cx="1373" cy="650" r="7"/></g>
<g id="p3-b6"><circle class="bl" cx="1398" cy="654" r="7"/></g>
<g id="p3-b7"><circle class="bl" cx="1388" cy="625" r="7"/></g>
<g id="p3-b8"><circle class="bl" cx="1353" cy="670" r="7"/></g>
<g id="p3-b9"><circle class="bl" cx="1380" cy="680" r="7"/></g>
<g id="p3-b10"><circle class="bl" cx="1352" cy="696" r="7"/></g>
</g>

<g id="arrows">
<g id="arrow1"><polygon class="arrow" points="433,488 481,488 481,462 529,514 481,566 481,540 433,540"/></g>
<g id="arrow2"><polygon class="arrow" points="904,493 951,493 951,468 998,520 951,570 951,545 904,545"/></g>
</g>
</svg>
